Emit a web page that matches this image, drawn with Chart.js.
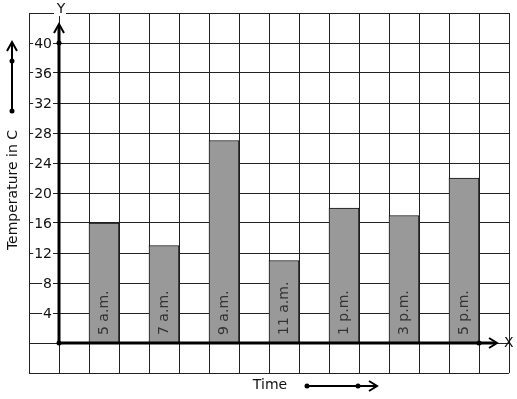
<!DOCTYPE html>
<html>
<head>
<meta charset="utf-8">
<script src="https://cdn.jsdelivr.net/npm/chart.js@4"></script>
<style>
  body { margin: 0; background: #fff; }
  #wrap { width: 517px; height: 399px; }
</style>
</head>
<body>
<div id="wrap"><canvas id="chart" width="517" height="399"></canvas></div>
<script>
let times = ["5 a.m.", "7 a.m.", "9 a.m.", "11 a.m.", "1 p.m.", "3 p.m.", "5 p.m."]
let temps = [16, 13, 27, 11, 18, 17, 22]
let yTicks = [4, 8, 12, 16, 20, 24, 28, 32, 36, 40]
let yTitle = "Temperature in C"
let xTitle = "Time"

// graph paper has 16 columns, bars sit in every other one starting at the 3rd
let numCols = 16
let slots = []
let values = []
for (let i = 0; i < numCols; i++) { slots.push(""); values.push(null) }
times.forEach((t, i) => {
  slots[2 + i * 2] = t
  values[2 + i * 2] = temps[i]
})

let font = "14px 'DejaVu Sans'"

function dot(ctx, x, y) {
  ctx.beginPath()
  ctx.arc(x, y, 2.5, 0, Math.PI * 2)
  ctx.fill()
}

function chevron(ctx, tipX, tipY, dir) {
  ctx.beginPath()
  if (dir == "up") {
    ctx.moveTo(tipX - 5, tipY + 9); ctx.lineTo(tipX, tipY); ctx.lineTo(tipX + 5, tipY + 9)
  } else {
    ctx.moveTo(tipX - 8, tipY - 5); ctx.lineTo(tipX, tipY); ctx.lineTo(tipX - 8, tipY + 5)
  }
  ctx.stroke()
}

let paperPlugin = {
  id: "paper",
  afterDatasetsDraw(chart) {
    let ctx = chart.ctx
    let xs = chart.scales.x, ys = chart.scales.y
    let area = chart.chartArea
    let colW = xs.getPixelForValue(1) - xs.getPixelForValue(0)
    let ox = Math.round(xs.getPixelForValue(0) + colW / 2) // y axis on 2nd grid line
    let oy = Math.round(ys.getPixelForValue(0))

    ctx.save()
    ctx.font = font

    // bar labels
    ctx.fillStyle = "#333"
    ctx.textBaseline = "middle"
    ctx.textAlign = "left"
    times.forEach((t, i) => {
      let px = xs.getPixelForValue(2 + i * 2)
      ctx.save()
      ctx.translate(px, oy - 8)
      ctx.rotate(-Math.PI / 2)
      ctx.fillText(t, 0, 0)
      ctx.restore()
    })

    // axes
    ctx.strokeStyle = "#000"
    ctx.fillStyle = "#000"
    ctx.lineWidth = 3
    ctx.beginPath()
    ctx.moveTo(ox, oy); ctx.lineTo(ox, 26)
    ctx.moveTo(ox, oy); ctx.lineTo(area.right - 13, oy)
    ctx.stroke()
    ctx.lineWidth = 2
    chevron(ctx, ox, 24, "up")
    chevron(ctx, area.right - 12, oy, "right")
    dot(ctx, ox, oy)
    dot(ctx, ox, ys.getPixelForValue(40))
    dot(ctx, xs.getPixelForValue(14) + colW / 2, oy)

    // tick labels on white
    ctx.textAlign = "right"
    ctx.textBaseline = "middle"
    yTicks.forEach(v => {
      let py = ys.getPixelForValue(v)
      let s = String(v)
      let w = ctx.measureText(s).width
      ctx.fillStyle = "#fff"
      ctx.fillRect(ox - 7 - w - 1, py - 6, w + 2, 12)
      ctx.fillStyle = "#111"
      ctx.fillText(s, ox - 7, py + 1)
    })

    // axis letters
    ctx.textAlign = "center"
    ctx.fillStyle = "#fff"
    ctx.fillRect(ox - 5, area.top - 3, 12, 6)
    ctx.fillStyle = "#111"
    ctx.fillText("Y", ox + 2, 9)
    ctx.textAlign = "left"
    ctx.fillText("X", area.right - 5, oy)

    // titles with little arrows
    ctx.textAlign = "center"
    ctx.save()
    ctx.translate(13, 190)
    ctx.rotate(-Math.PI / 2)
    ctx.fillText(yTitle, 0, 0)
    ctx.restore()
    ctx.fillText(xTitle, 270, 385)

    ctx.fillStyle = "#000"
    ctx.lineWidth = 2
    ctx.beginPath()
    ctx.moveTo(12, 111); ctx.lineTo(12, 43)
    ctx.moveTo(307, 386); ctx.lineTo(376, 386)
    ctx.stroke()
    chevron(ctx, 12, 42, "up")
    chevron(ctx, 377, 386, "right")
    dot(ctx, 12, 111); dot(ctx, 12, 61)
    dot(ctx, 307, 386); dot(ctx, 358, 386)
    ctx.restore()
  }
}

new Chart(document.getElementById("chart"), {
  type: "bar",
  data: {
    labels: slots,
    datasets: [{
      data: values,
      backgroundColor: "#999999",
      borderColor: "#111",
      borderWidth: 1,
      barPercentage: 1,
      categoryPercentage: 1
    }]
  },
  options: {
    responsive: false,
    animation: false,
    devicePixelRatio: 1,
    layout: { padding: { left: 29, top: 13, right: 8, bottom: 26 } },
    plugins: { legend: { display: false }, tooltip: { enabled: false } },
    scales: {
      x: {
        offset: true,
        grid: { color: "#222", lineWidth: 1, offset: true, drawTicks: false },
        border: { display: false },
        ticks: { display: false }
      },
      y: {
        min: -4, max: 44,
        grid: { color: "#222", lineWidth: 1, drawTicks: false },
        border: { display: false },
        ticks: { display: false, stepSize: 4 }
      }
    }
  },
  plugins: [paperPlugin]
})
</script>
</body>
</html>
